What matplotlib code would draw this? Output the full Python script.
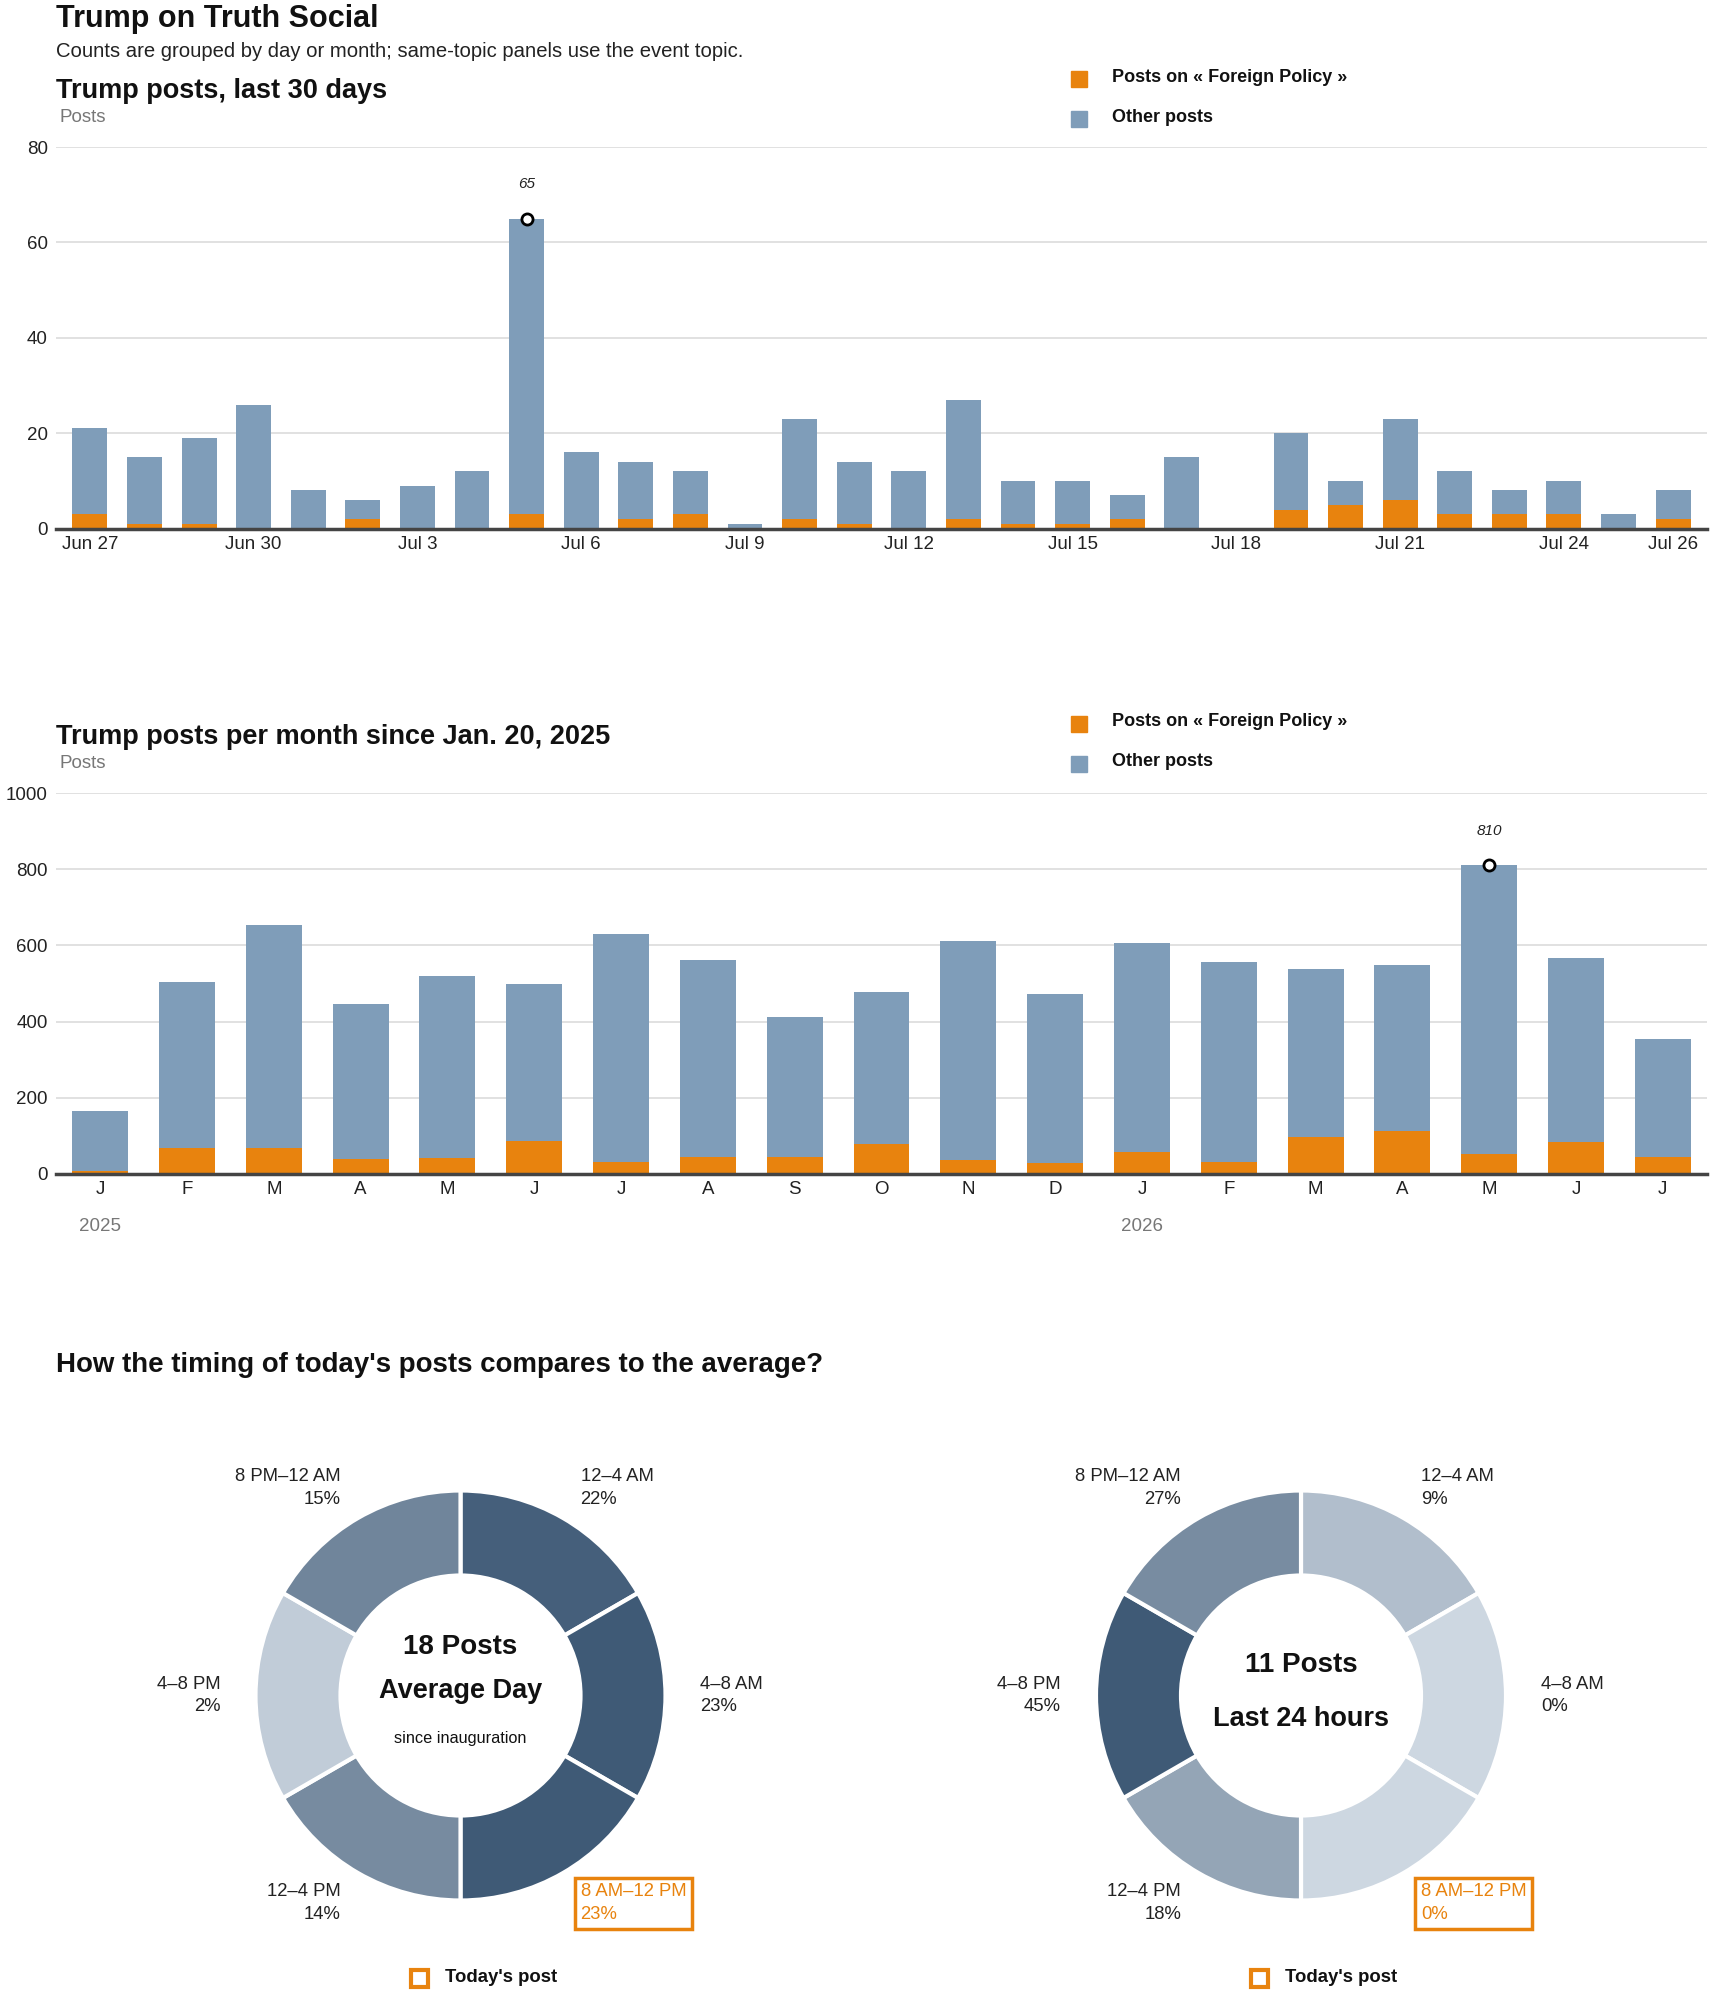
import numpy as np
import matplotlib
matplotlib.use("Agg")
from matplotlib import pyplot as plt
from matplotlib.patches import Rectangle

plt.rcParams['font.family'] = ['Liberation Sans', 'DejaVu Sans']

# --- data -------------------------------------------------------------
day_labels = ["Jun 27", "Jun 28", "Jun 29", "Jun 30", "Jul 1", "Jul 2", "Jul 3", "Jul 4",
              "Jul 5", "Jul 6", "Jul 7", "Jul 8", "Jul 9", "Jul 10", "Jul 11", "Jul 12",
              "Jul 13", "Jul 14", "Jul 15", "Jul 16", "Jul 17", "Jul 18", "Jul 19", "Jul 20",
              "Jul 21", "Jul 22", "Jul 23", "Jul 24", "Jul 25", "Jul 26"]
day_total = [21, 15, 19, 26, 8, 6, 9, 12, 65, 16, 14, 12, 1, 23, 14, 12,
             27, 10, 10, 7, 15, 0, 20, 10, 23, 12, 8, 10, 3, 8]
day_topic = [3, 1, 1, 0, 0, 2, 0, 0, 3, 0, 2, 3, 0, 2, 1, 0,
             2, 1, 1, 2, 0, 0, 4, 5, 6, 3, 3, 3, 0, 2]
day_ticks = [0, 3, 6, 9, 12, 15, 18, 21, 24, 27, 29]

month_labels = ["J", "F", "M", "A", "M", "J", "J", "A", "S", "O", "N", "D",
                "J", "F", "M", "A", "M", "J", "J"]
month_years = {0: "2025", 12: "2026"}
month_total = [165, 504, 654, 447, 520, 499, 630, 562, 412, 477, 612, 473,
               607, 556, 538, 549, 810, 568, 355]
month_topic = [7, 69, 69, 39, 43, 86, 32, 45, 45, 79, 38, 30,
               58, 32, 96, 113, 53, 83, 45]

slots = ["12–4 AM", "4–8 AM", "8 AM–12 PM", "12–4 PM", "4–8 PM", "8 PM–12 AM"]
avg_pct = [22, 23, 23, 14, 2, 15]
today_pct = [9, 0, 0, 18, 45, 27]
today_slot = "8 AM–12 PM"
avg_posts = 18
today_posts = 11

TOPIC = "Foreign Policy"

# --- style ------------------------------------------------------------
W, H = 1710, 1993
ORANGE = "#e8830e"
BLUE = "#7f9db9"
LIGHT = np.array([0xcd, 0xd7, 0xe1]) / 255
DARK = np.array([0x3f, 0x5a, 0x76]) / 255
INK = "#111111"

fig = plt.figure(figsize=(W / 100, H / 100), dpi=100)


def fx(px):
    return px / W


def fy(py):
    return 1 - py / H


def add_legend(y_top):
    fig.add_artist(Rectangle((fx(1071), fy(y_top + 16)), fx(16), 16 / H,
                             transform=fig.transFigure, color=ORANGE))
    fig.text(fx(1112), fy(y_top + 6), f"Posts on « {TOPIC} »", fontsize=13,
             fontweight="bold", color=INK, va="center")
    fig.add_artist(Rectangle((fx(1071), fy(y_top + 56)), fx(16), 16 / H,
                             transform=fig.transFigure, color=BLUE))
    fig.text(fx(1112), fy(y_top + 46), "Other posts", fontsize=13,
             fontweight="bold", color=INK, va="center")


def stacked_panel(rect, total, topic, ylim, yticks, width, xpad):
    ax = fig.add_axes(rect)
    x = np.arange(len(total))
    other = np.array(total) - np.array(topic)
    ax.bar(x, topic, width=width, color=ORANGE, zorder=2)
    ax.bar(x, other, bottom=topic, width=width, color=BLUE, zorder=2)
    ax.set_xlim(-xpad, len(total) - 1 + xpad)
    ax.set_ylim(*ylim)
    ax.set_yticks(yticks)
    ax.grid(axis="y", color="#dcdcdc", lw=1.2, zorder=0)
    for s in ["left", "right", "top"]:
        ax.spines[s].set_visible(False)
    ax.spines["bottom"].set_color("#444444")
    ax.spines["bottom"].set_linewidth(2.5)
    ax.spines["bottom"].set_zorder(3)
    ax.tick_params(length=0, labelsize=13.5, colors="#222222")
    ax.tick_params(axis="y", pad=6)
    ax.tick_params(axis="x", pad=5)
    # peak marker
    i = int(np.argmax(total))
    ax.plot(i, total[i], "o", ms=8, mfc="white", mec="black", mew=2, zorder=4, clip_on=False)
    ax.annotate(str(total[i]), (i, total[i]), xytext=(0, 25), textcoords="offset points",
                ha="center", va="center", fontsize=11, style="italic", color="#222222")
    return ax


# titles
fig.text(fx(56), fy(27), "Trump on Truth Social", fontsize=22, fontweight="bold",
         color=INK, va="baseline")
fig.text(fx(56), fy(57), "Counts are grouped by day or month; same-topic panels use the event topic.",
         fontsize=14.6, color="#222222", va="baseline")

# --- panel 1: last 30 days --------------------------------------------
fig.text(fx(56), fy(98), "Trump posts, last 30 days", fontsize=19.5, fontweight="bold",
         color=INK, va="baseline")
fig.text(fx(59), fy(118), "Posts", fontsize=13.5, color="#777777", va="center")
add_legend(71)
ax1 = stacked_panel([fx(56), fy(528.6), fx(1651), 381.6 / H], day_total, day_topic,
                    (0, 80), [0, 20, 40, 60, 80], 0.64, 0.62)
ax1.set_xticks(day_ticks)
ax1.set_xticklabels([day_labels[i] for i in day_ticks])

# --- panel 2: per month -----------------------------------------------
fig.text(fx(56), fy(744), "Trump posts per month since Jan. 20, 2025", fontsize=19.5,
         fontweight="bold", color=INK, va="baseline")
fig.text(fx(59), fy(764), "Posts", fontsize=13.5, color="#777777", va="center")
add_legend(716)
ax2 = stacked_panel([fx(56), fy(1174), fx(1651), 381 / H], month_total, month_topic,
                    (0, 1000), [0, 200, 400, 600, 800, 1000], 0.645, 0.51)
ax2.set_xticks(np.arange(len(month_labels)))
ax2.set_xticklabels(month_labels)
for i, yr in month_years.items():
    ax2.text(i, -0.139, yr, transform=ax2.get_xaxis_transform(), ha="center", va="center",
             fontsize=13.5, color="#777777")

# --- panel 3: donuts --------------------------------------------------
fig.text(fx(56), fy(1372), "How the timing of today's posts compares to the average?",
         fontsize=19.9, fontweight="bold", color=INK, va="baseline")

R = 205.0  # outer radius in px


def donut(cx, cy, pct, center_lines):
    size = 640
    ax = fig.add_axes([fx(cx - size / 2), fy(cy + size / 2), fx(size), size / H])
    top = max(pct) if max(pct) > 0 else 1
    cols = [tuple(LIGHT + (DARK - LIGHT) * p / top) for p in pct]
    ax.pie([1] * len(pct), colors=cols, startangle=90, counterclock=False,
           wedgeprops=dict(width=85 / R, edgecolor="white", linewidth=3))
    lim = size / 2 / R
    ax.set_xlim(-lim, lim)
    ax.set_ylim(-lim, lim)
    ax.set_aspect("equal")
    ax.axis("off")
    n = len(pct)
    for k, (name, p) in enumerate(zip(slots, pct)):
        ang = np.deg2rad(90 - (k + 0.5) * 360 / n)
        x, y = 240 / R * np.cos(ang), 240 / R * np.sin(ang)
        ha = "left" if x > 0 else "right"
        if name == today_slot:
            ax.text(x, y, f"{name}\n{p}%", ha=ha, va="center", fontsize=13.3, color=ORANGE,
                    linespacing=1.45,
                    bbox=dict(boxstyle="square,pad=0.3", fc="none", ec=ORANGE, lw=2.5))
        else:
            ax.text(x, y, f"{name}\n{p}%", ha=ha, va="center", fontsize=13.3, color="#222222",
                    linespacing=1.45)
    for text, dy, fs, fw in center_lines:
        ax.text(0, -dy / R, text, ha="center", va="center", fontsize=fs, fontweight=fw, color=INK)
    # today's post key
    fig.add_artist(Rectangle((fx(cx - 50), fy(cy + 291)), fx(17), 17 / H, transform=fig.transFigure,
                             fc="none", ec=ORANGE, lw=3))
    fig.text(fx(cx - 16), fy(cy + 282), "Today's post", fontsize=13.3, fontweight="bold",
             color=INK, va="center")


donut(460.5, 1695.5, avg_pct,
      [(f"{avg_posts} Posts", -49, 20, "bold"),
       ("Average Day", -4, 19.5, "bold"),
       ("since inauguration", 43, 11.7, "normal")])
donut(1301, 1695.5, today_pct,
      [(f"{today_posts} Posts", -30, 20, "bold"),
       ("Last 24 hours", 23, 19.5, "bold")])

fig.savefig("out.png", dpi=100)
